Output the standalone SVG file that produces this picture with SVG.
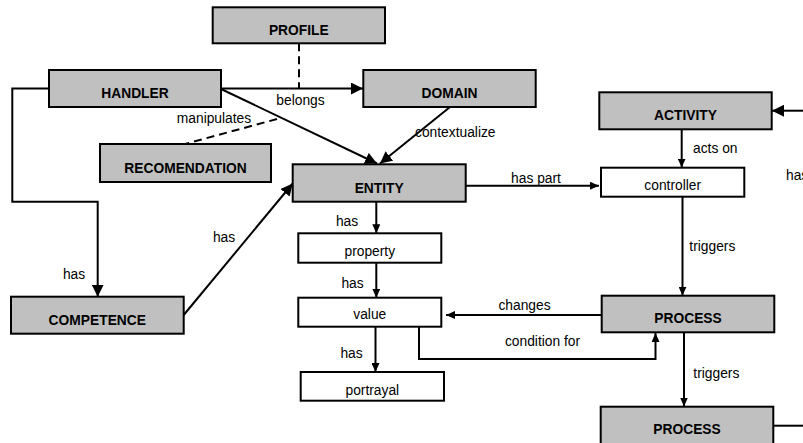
<svg xmlns="http://www.w3.org/2000/svg" width="803" height="443" viewBox="0 0 803 443">
<defs>
<style>
.box{fill:#c0c0c0;stroke:#000;stroke-width:2}
.wbox{fill:#fff;stroke:#000;stroke-width:2}
.bl{font-family:"Liberation Sans",Arial,sans-serif;font-size:13.8px;font-weight:bold;text-anchor:middle;fill:#000}
.nl{font-family:"Liberation Sans",Arial,sans-serif;font-size:13.8px;text-anchor:middle;fill:#000}
.el{font-family:"Liberation Sans",Arial,sans-serif;font-size:13.8px;fill:#000}
.c{fill:none;stroke:#000;stroke-width:2}
.big{marker-end:url(#ab)}
.sm{marker-end:url(#as)}
.d{stroke-dasharray:8,5}
</style>
<marker id="ab" markerUnits="userSpaceOnUse" markerWidth="12" markerHeight="12" refX="12" refY="6" orient="auto"><path d="M0,0 L12,6 L0,12 z" fill="#000"/></marker>
<marker id="as" markerUnits="userSpaceOnUse" markerWidth="9" markerHeight="8" refX="9" refY="4" orient="auto"><path d="M0,0 L9,4 L0,8 z" fill="#000"/></marker>
</defs>
<rect width="803" height="443" fill="#fff"/>
<g id="connectors">
<path class="c big" d="M221,88.5 H363"/>
<path class="c d" d="M299,43.3 V88"/>
<path class="c big" d="M221,89 L377,163.5"/>
<path class="c big" d="M450,107 L380,163.5"/>
<path class="c d" d="M277,119 L185,144"/>
<path class="c big" d="M49,88.5 H12.3 V201.7 H97.7 V296.7"/>
<path class="c big" d="M183.7,315 L292.7,183.5"/>
<path class="c sm" d="M461.7,185.7 H599"/>
<path class="c sm" d="M681.7,129.3 V167.5"/>
<path class="c big" d="M803,110.7 H772"/>
<path class="c sm" d="M682.5,196.7 V295.7"/>
<path class="c sm" d="M376.3,201.7 V233.3"/>
<path class="c sm" d="M376.3,262.7 V297.7"/>
<path class="c sm" d="M375.5,326.7 V372"/>
<path class="c sm" d="M601.7,315 H446"/>
<path class="c sm" d="M419,326.7 V359 H655.5 V333"/>
<path class="c sm" d="M684,332.3 V406.5"/>
<path class="c" d="M773.3,425.7 H803"/>
<text class="nl" x="300.5" y="105">belongs</text>
<text class="nl" x="214" y="122.7">manipulates</text>
<text class="el" x="415" y="137.3">contextualize</text>
<text class="nl" x="74" y="279.3">has</text>
<text class="nl" x="224" y="241.7">has</text>
<text class="nl" x="536" y="182.7">has part</text>
<text class="el" x="693" y="152.7">acts on</text>
<text class="el" x="786" y="180">has</text>
<text class="el" x="689.3" y="250.7">triggers</text>
<text class="nl" x="347" y="226">has</text>
<text class="nl" x="352.5" y="287.7">has</text>
<text class="nl" x="351.5" y="357.7">has</text>
<text class="nl" x="524.5" y="310">changes</text>
<text class="nl" x="542.5" y="346">condition for</text>
<text class="el" x="693.3" y="378.3">triggers</text>
</g>
<g id="profile"><rect class="box" x="212.7" y="7.3" width="172.3" height="36"/><text class="bl" x="298.8" y="35">PROFILE</text></g>
<g id="handler"><rect class="box" x="49" y="70" width="172" height="37"/><text class="bl" x="135" y="98.3">HANDLER</text></g>
<g id="domain"><rect class="box" x="363.3" y="70" width="172.4" height="37"/><text class="bl" x="449.5" y="98.3">DOMAIN</text></g>
<g id="recomendation"><rect class="box" x="100" y="144" width="171" height="38"/><text class="bl" x="185.5" y="173.3">RECOMENDATION</text></g>
<g id="entity"><rect class="box" x="292.7" y="164.3" width="173" height="37.4"/><text class="bl" x="379.2" y="192.7">ENTITY</text></g>
<g id="competence"><rect class="box" x="11" y="296.7" width="172.7" height="37"/><text class="bl" x="97.3" y="325">COMPETENCE</text></g>
<g id="activity"><rect class="box" x="599.3" y="92.3" width="172.4" height="37"/><text class="bl" x="685.5" y="120">ACTIVITY</text></g>
<g id="controller"><rect class="wbox" x="601" y="167.7" width="143.3" height="29"/><text class="nl" x="672.7" y="190">controller</text></g>
<g id="property"><rect class="wbox" x="298.3" y="233.3" width="143" height="29.4"/><text class="nl" x="369.8" y="256">property</text></g>
<g id="value"><rect class="wbox" x="298.3" y="297.7" width="143" height="29"/><text class="nl" x="369.8" y="319.3">value</text></g>
<g id="portrayal"><rect class="wbox" x="300.7" y="372" width="143.3" height="28.7"/><text class="nl" x="372.3" y="395">portrayal</text></g>
<g id="process1"><rect class="box" x="601.7" y="295.7" width="172.6" height="36.6"/><text class="bl" x="688" y="322.7">PROCESS</text></g>
<g id="process2"><rect class="box" x="600.7" y="406.7" width="172.6" height="40"/><text class="bl" x="687" y="434.3">PROCESS</text></g>
</svg>
